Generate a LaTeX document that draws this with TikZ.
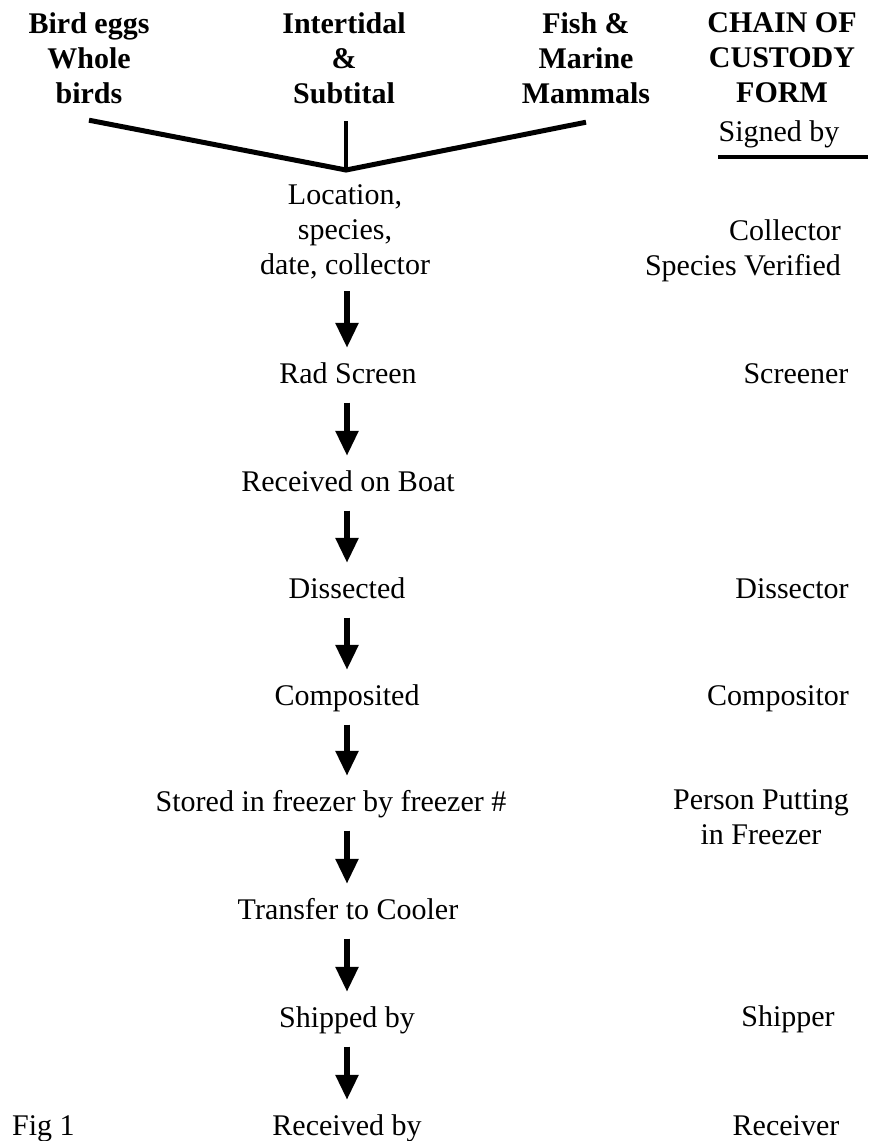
\documentclass[tikz,border=0pt]{standalone}
\usepackage{fontspec}
\setmainfont{Liberation Serif}
\usetikzlibrary{arrows.meta}

\begin{document}
\begin{tikzpicture}[x=1pt,y=1pt,
    every node/.style={inner sep=0pt, font=\fontsize{30}{35}\selectfont},
    head/.style={align=center, anchor=north, font=\fontsize{30}{35}\selectfont\bfseries},
    stage/.style={anchor=base, text height=21pt, text depth=7.5pt},
    signer/.style={anchor=base},
    vline/.style={line width=5pt},
    flow/.style={line width=5.5pt, -{Triangle[width=22pt,length=25pt]}, shorten <=12pt, shorten >=14pt}]
    \useasboundingbox (0,0) rectangle (868,-1141);
    % sample sources
    \node [head] (birds) at (89,-12.7) {Bird eggs\\Whole\\birds};
    \node [head] (tidal) at (344,-12.7) {Intertidal\\\&\\Subtital};
    \node [head] (mammals) at (586,-12.7) {Fish \&\\Marine\\Mammals};
    \node [head] (form) at (782,-12.7) {CHAIN OF\\CUSTODY\\FORM};
    \node [signer] (signed) at (779,-141) {Signed by};
    \draw [line width=4pt] (718,-157) -- (868,-157);
    \coordinate (join) at (346,-170);
    \coordinate (birdsfoot) at ([yshift=-16pt]birds.south);
    \coordinate (mammalsfoot) at ([yshift=-18pt]mammals.south);
    \draw [vline] (birdsfoot) -- (join) -- (mammalsfoot);
    \draw [line width=4pt] ([yshift=-17pt]tidal.south -| join) -- (join);
    % chain of steps
    \coordinate (spine) at (347,0);
    \node [align=center, anchor=north] (loc) at (345,-184.5) {Location,\\species,\\date, collector};
    \node [stage] (rad) at (348,-383) {Rad Screen};
    \node [stage] (boat) at (348,-491) {Received on Boat};
    \node [stage] (diss) at (347,-598) {Dissected};
    \node [stage] (comp) at (347,-705) {Composited};
    \node [stage] (stored) at (331,-811) {Stored in freezer by freezer \#};
    \node [stage] (cool) at (348,-919) {Transfer to Cooler};
    \node [stage] (ship) at (347,-1027) {Shipped by};
    \node [stage] (recv) at (347,-1135) {Received by};
    \foreach \a/\b in {loc/rad, rad/boat, boat/diss, diss/comp, comp/stored, stored/cool, cool/ship, ship/recv}
        \draw [flow] (\a.south -| spine) -- (\b.north -| spine);
    % who signs
    \node [align=right, anchor=north east] (collector) at (841,-219) {Collector\\Species Verified};
    \node [signer] (screener) at (796,-383) {Screener};
    \node [signer] (dissector) at (792,-598) {Dissector};
    \node [signer] (compositor) at (778,-705) {Compositor};
    \node [align=center, anchor=north] (putter) at (761,-789.5) {Person Putting\\in Freezer};
    \node [signer] (shipper) at (788,-1026) {Shipper};
    \node [signer] (receiver) at (786,-1135) {Receiver};
    \node [anchor=base west] (fig) at (12,-1135) {Fig 1};
\end{tikzpicture}
\end{document}
